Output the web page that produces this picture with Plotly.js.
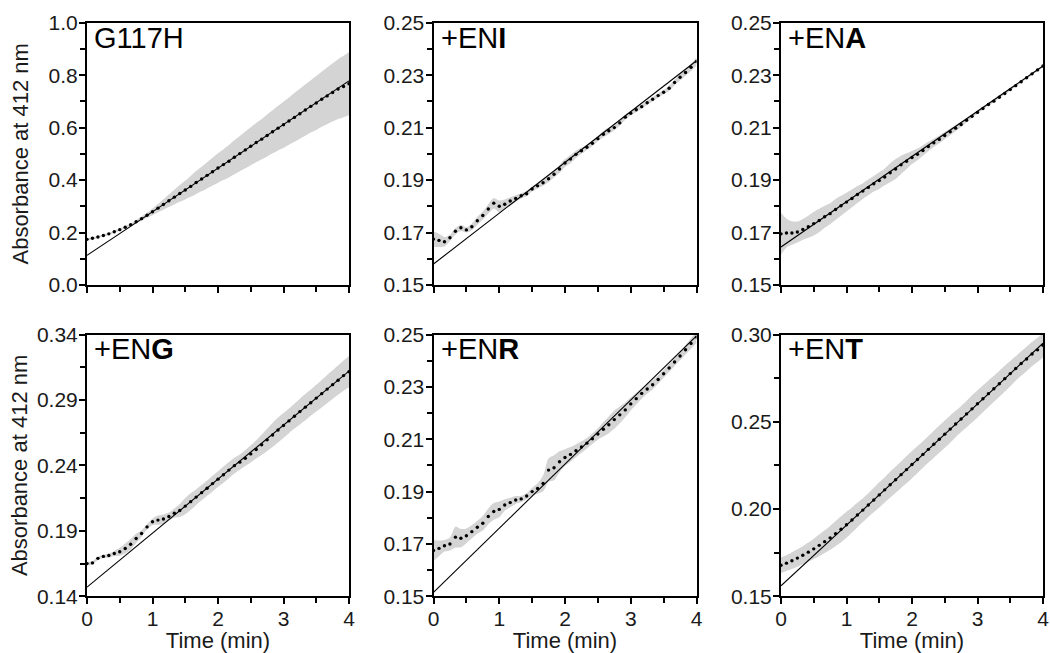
<!DOCTYPE html>
<html>
<head>
<meta charset="utf-8">
<script src="https://cdn.plot.ly/plotly-3.0.1.min.js"></script>
<style>
html,body{margin:0;padding:0;background:#fff;}
#chart{width:1050px;height:653px;}
</style>
</head>
<body>
<div id="chart"></div>
<script>
// ---- data ----
const timeSec = [0,5,10,15,20,25,30,35,40,45,50,55,60,65,70,75,80,85,90,95,100,105,110,115,120,125,130,135,140,145,150,155,160,165,170,175,180,185,190,195,200,205,210,215,220,225,230,235,240];

const panelLabels = ["G117H", "+EN<b>I</b>", "+EN<b>A</b>", "+EN<b>G</b>", "+EN<b>R</b>", "+EN<b>T</b>"];

const meanG117H = [0.174,0.178,0.183,0.189,0.195,0.203,0.211,0.220,0.230,0.241,0.253,0.266,0.279,
  0.293,0.307,0.321,0.335,0.349,0.362,0.376,0.391,0.404,0.418,0.432,0.446,
  0.459,0.472,0.487,0.501,0.515,0.529,0.543,0.556,0.570,0.584,0.598,0.611,
  0.625,0.639,0.653,0.667,0.681,0.694,0.708,0.721,0.734,0.747,0.757,0.767];
const sdG117H = [0.004,0.004,0.004,0.004,0.004,0.004,0.004,0.004,0.004,0.006,0.008,0.010,0.013,
  0.016,0.020,0.024,0.028,0.032,0.036,0.040,0.044,0.047,0.050,0.053,0.056,
  0.059,0.062,0.065,0.067,0.070,0.072,0.075,0.077,0.080,0.082,0.085,0.088,
  0.090,0.093,0.095,0.098,0.100,0.103,0.105,0.108,0.111,0.114,0.117,0.120];

const meanENI = [0.1675,0.1670,0.1665,0.1680,0.1705,0.1718,0.1710,0.1722,0.1745,0.1765,0.1790,0.1812,0.1800,
  0.1808,0.1820,0.1830,0.1840,0.1848,0.1866,0.1878,0.1890,0.1905,0.1922,0.1942,0.1965,
  0.1980,0.1998,0.2012,0.2025,0.2040,0.2058,0.2075,0.2088,0.2100,0.2118,0.2140,0.2155,
  0.2168,0.2180,0.2195,0.2208,0.2222,0.2235,0.2250,0.2272,0.2292,0.2310,0.2330,0.2352];
const sdENI = [0.0030,0.0025,0.0018,0.0012,0.0012,0.0012,0.0010,0.0012,0.0015,0.0015,0.0018,0.0020,0.0022,
  0.0018,0.0015,0.0012,0.0010,0.0010,0.0009,0.0010,0.0012,0.0012,0.0012,0.0015,0.0015,
  0.0016,0.0014,0.0012,0.0010,0.0010,0.0010,0.0012,0.0012,0.0010,0.0010,0.0010,0.0008,
  0.0008,0.0008,0.0008,0.0008,0.0008,0.0008,0.0010,0.0010,0.0012,0.0012,0.0014,0.0016];

const meanENA = [0.1695,0.1698,0.1698,0.1702,0.1712,0.1722,0.1734,0.1746,0.1760,0.1772,0.1788,0.1802,0.1816,
  0.1830,0.1845,0.1858,0.1872,0.1886,0.1898,0.1912,0.1928,0.1942,0.1958,0.1972,0.1986,
  0.1998,0.2013,0.2028,0.2042,0.2055,0.2070,0.2084,0.2098,0.2112,0.2128,0.2143,0.2158,
  0.2173,0.2188,0.2201,0.2216,0.2230,0.2245,0.2260,0.2275,0.2290,0.2305,0.2320,0.2335];
const sdENA = [0.0080,0.0055,0.0045,0.0040,0.0040,0.0042,0.0045,0.0045,0.0042,0.0040,0.0040,0.0038,0.0036,
  0.0034,0.0032,0.0030,0.0030,0.0030,0.0032,0.0032,0.0036,0.0038,0.0035,0.0030,0.0025,
  0.0022,0.0020,0.0018,0.0016,0.0015,0.0014,0.0013,0.0012,0.0010,0.0008,0.0006,0.0005,
  0.0004,0.0004,0.0004,0.0004,0.0004,0.0004,0.0004,0.0004,0.0004,0.0004,0.0004,0.0004];

const meanENG = [0.1650,0.1655,0.1690,0.1705,0.1712,0.1727,0.1740,0.1765,0.1798,0.1842,0.1880,0.1930,0.1970,
  0.1982,0.1990,0.2010,0.2035,0.2055,0.2089,0.2123,0.2158,0.2192,0.2226,0.2261,0.2295,
  0.2329,0.2364,0.2398,0.2425,0.2455,0.2488,0.2522,0.2558,0.2595,0.2632,0.2670,0.2705,
  0.2740,0.2776,0.2811,0.2845,0.2879,0.2914,0.2948,0.2983,0.3017,0.3051,0.3086,0.3115];
const sdENG = [0.0012,0.0012,0.0012,0.0012,0.0015,0.0020,0.0030,0.0038,0.0040,0.0035,0.0025,0.0020,0.0025,
  0.0035,0.0035,0.0030,0.0035,0.0050,0.0062,0.0064,0.0060,0.0058,0.0058,0.0060,0.0060,
  0.0062,0.0062,0.0060,0.0058,0.0060,0.0065,0.0070,0.0078,0.0085,0.0092,0.0095,0.0095,
  0.0095,0.0095,0.0098,0.0100,0.0100,0.0102,0.0105,0.0108,0.0110,0.0112,0.0115,0.0118];

const meanENR = [0.1675,0.1683,0.1693,0.1700,0.1726,0.1722,0.1731,0.1747,0.1764,0.1779,0.1805,0.1824,0.1832,
  0.1849,0.1858,0.1868,0.1872,0.1883,0.1900,0.1912,0.1931,0.1982,0.1991,0.2014,0.2030,
  0.2042,0.2056,0.2070,0.2085,0.2102,0.2120,0.2138,0.2155,0.2175,0.2193,0.2212,0.2235,
  0.2255,0.2275,0.2292,0.2308,0.2328,0.2350,0.2372,0.2395,0.2418,0.2442,0.2466,0.2490];
const sdENR = [0.0040,0.0030,0.0022,0.0025,0.0040,0.0035,0.0028,0.0025,0.0025,0.0028,0.0030,0.0032,0.0030,
  0.0022,0.0018,0.0015,0.0012,0.0012,0.0015,0.0020,0.0030,0.0045,0.0048,0.0040,0.0032,
  0.0028,0.0025,0.0022,0.0020,0.0020,0.0022,0.0028,0.0032,0.0035,0.0032,0.0028,0.0025,
  0.0022,0.0020,0.0018,0.0018,0.0016,0.0015,0.0015,0.0015,0.0016,0.0018,0.0020,0.0022];

const meanENT = [0.1678,0.1690,0.1704,0.1719,0.1735,0.1753,0.1772,0.1792,0.1813,0.1835,0.1859,0.1884,0.1910,
  0.1937,0.1966,0.1994,0.2023,0.2052,0.2081,0.2110,0.2139,0.2168,0.2197,0.2226,0.2255,
  0.2284,0.2313,0.2342,0.2371,0.2400,0.2429,0.2458,0.2487,0.2516,0.2545,0.2574,0.2603,
  0.2632,0.2661,0.2689,0.2718,0.2747,0.2776,0.2805,0.2834,0.2860,0.2888,0.2912,0.2938];
const sdENT = [0.0045,0.0045,0.0048,0.0050,0.0052,0.0055,0.0058,0.0062,0.0065,0.0068,0.0072,0.0075,0.0075,
  0.0072,0.0070,0.0068,0.0068,0.0070,0.0072,0.0072,0.0074,0.0075,0.0076,0.0078,0.0078,
  0.0077,0.0076,0.0076,0.0077,0.0078,0.0078,0.0078,0.0076,0.0075,0.0076,0.0078,0.0078,
  0.0077,0.0076,0.0075,0.0075,0.0074,0.0072,0.0070,0.0070,0.0070,0.0070,0.0070,0.0070];

// linear fits: value at t = 0 and t = 4 min
const fitTimes = [0, 4];
const fitStart = [0.113, 0.158, 0.1645, 0.147, 0.1515, 0.156];
const fitEnd   = [0.778, 0.2355, 0.2335, 0.312, 0.2495, 0.295];

const yRanges  = [[0,1],[0.15,0.25],[0.15,0.25],[0.14,0.34],[0.15,0.25],[0.15,0.30]];
const yTick0   = [0, 0.15, 0.15, 0.14, 0.15, 0.15];
const yDtick   = [0.2, 0.02, 0.02, 0.05, 0.02, 0.05];
const yMinor   = [0.1, 0.01, 0.01, 0.025, 0.01, 0.025];
const yFormat  = [".1f", ".2f", ".2f", ".2f", ".2f", ".2f"];

const means = [meanG117H, meanENI, meanENA, meanENG, meanENR, meanENT];
const sds   = [sdG117H, sdENI, sdENA, sdENG, sdENR, sdENT];

// ---- layout geometry (pixels) ----
const W = 1050, H = 653;
const colPx = [[87, 349], [433.5, 696.5], [781, 1043]];
const rowPx = [[22.7, 285], [334.5, 596.3]];

const FONT = "Liberation Sans, Arial, Helvetica, sans-serif";
const TXT = "#1a1a1a";
const BAND = "#d4d4d4";

const timeMin = timeSec.map(s => s / 60);
const traces = [];
const layout = {
  width: W, height: H,
  margin: {l: 0, r: 0, t: 0, b: 0},
  paper_bgcolor: "#fff", plot_bgcolor: "#fff",
  showlegend: false,
  font: {family: FONT, color: TXT, size: 21},
  annotations: []
};

for (let p = 0; p < 6; p++) {
  const row = Math.floor(p / 3), col = p % 3;
  const n = p + 1;
  const xa = n === 1 ? "x" : "x" + n, ya = n === 1 ? "y" : "y" + n;
  const xKey = n === 1 ? "xaxis" : "xaxis" + n, yKey = n === 1 ? "yaxis" : "yaxis" + n;
  const m = means[p], s = sds[p];
  const lower = m.map((v, i) => v - s[i]);
  const upper = m.map((v, i) => v + s[i]);

  traces.push({x: timeMin, y: lower, xaxis: xa, yaxis: ya, mode: "lines",
    line: {width: 0, color: BAND, shape: "spline", smoothing: 0.8}, hoverinfo: "skip"});
  traces.push({x: timeMin, y: upper, xaxis: xa, yaxis: ya, mode: "lines", fill: "tonexty",
    fillcolor: BAND, line: {width: 0, color: BAND, shape: "spline", smoothing: 0.8}, hoverinfo: "skip"});
  traces.push({x: fitTimes, y: [fitStart[p], fitEnd[p]], xaxis: xa, yaxis: ya, mode: "lines",
    line: {width: 1.1, color: "#000"}});
  traces.push({x: timeMin, y: m, xaxis: xa, yaxis: ya, mode: "markers",
    marker: {size: 3.4, color: "#000"}});

  const bottom = row === 1;
  layout[xKey] = {
    domain: [colPx[col][0] / W, colPx[col][1] / W],
    anchor: ya, range: [0, 4], tick0: 0, dtick: 1,
    showgrid: false, zeroline: false,
    showline: true, linewidth: 2, linecolor: "#000", mirror: true,
    ticks: "outside", ticklen: 6, tickwidth: 2, tickcolor: "#000",
    minor: {dtick: 0.5, tick0: 0, ticks: "outside", ticklen: 5, tickwidth: 2, tickcolor: "#000", showgrid: false},
    showticklabels: bottom, ticklabelstandoff: -4,
    tickfont: {family: FONT, size: 21, color: TXT},
    fixedrange: true
  };
  if (bottom) layout[xKey].title = {text: "Time (min)", font: {family: FONT, size: 22, color: TXT}, standoff: 8};

  layout[yKey] = {
    domain: [1 - rowPx[row][1] / H, 1 - rowPx[row][0] / H],
    anchor: xa, range: yRanges[p], tick0: yTick0[p], dtick: yDtick[p], tickformat: yFormat[p],
    showgrid: false, zeroline: false,
    showline: true, linewidth: 2, linecolor: "#000", mirror: true,
    ticks: "outside", ticklen: 6, tickwidth: 2, tickcolor: "#000",
    minor: {dtick: yMinor[p], tick0: yTick0[p], ticks: "outside", ticklen: 5, tickwidth: 2, tickcolor: "#000", showgrid: false},
    ticklabelstandoff: -3,
    tickfont: {family: FONT, size: 21, color: TXT},
    fixedrange: true
  };
  if (col === 0) layout[yKey].title = {text: "Absorbance at 412 nm",
    font: {family: FONT, size: 22, color: TXT}, standoff: p === 0 ? 14 : 3};

  layout.annotations.push({
    text: panelLabels[p], xref: xa + " domain", yref: ya + " domain",
    x: 0.02, y: 1, xanchor: "left", yanchor: "top", yshift: 3, showarrow: false,
    font: {family: FONT, size: 29, color: "#000"}
  });
}

Plotly.newPlot("chart", traces, layout, {staticPlot: true, displayModeBar: false});
</script>
</body>
</html>
